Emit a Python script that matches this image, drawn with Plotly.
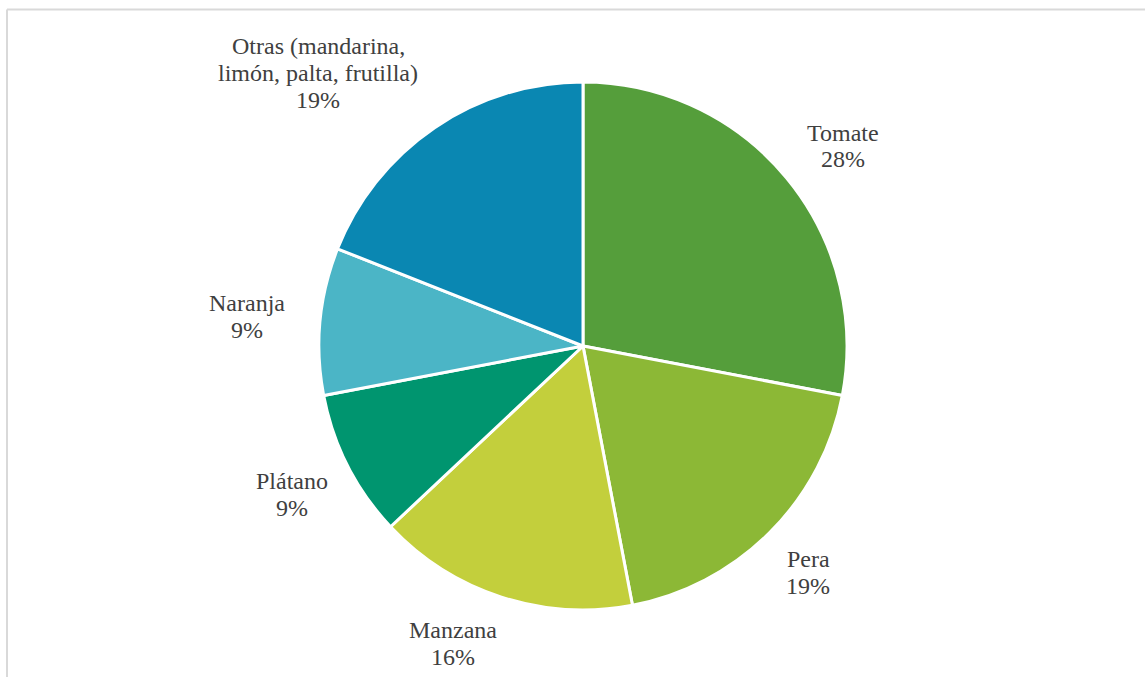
import plotly.graph_objects as go

# Share of each product (percent), clockwise from 12 o'clock
categories = ["Tomate", "Pera", "Manzana", "Plátano", "Naranja",
              "Otras (mandarina, limón, palta, frutilla)"]
shares = [28, 19, 16, 9, 9, 19]

# Label text split into lines
label_lines = [
    ["Tomate"],
    ["Pera"],
    ["Manzana"],
    ["Plátano"],
    ["Naranja"],
    ["Otras (mandarina,", "limón, palta, frutilla)"],
]

colors = ["#559E3B", "#8CB836", "#C3CF3C", "#00956F", "#4BB5C6", "#0A87B2"]

W, H = 1145, 677
# Label block centres in pixels (x from left, y from top)
label_pos = [(843, 146), (808, 572), (453, 643), (292, 494), (247, 316), (318, 73)]
LINE_H = 27
FONT = dict(family="Times New Roman", size=24, color="#404040")

# Pie geometry in pixels
CX, CY, R = 583, 346, 264

fig = go.Figure(go.Pie(
    labels=categories,
    values=shares,
    sort=False,
    direction="clockwise",
    rotation=0,
    textinfo="none",
    hoverinfo="label+percent",
    marker=dict(colors=colors, line=dict(color="white", width=3)),
    domain=dict(x=[(CX - R) / W, (CX + R) / W],
                y=[(H - CY - R) / H, (H - CY + R) / H]),
    showlegend=False,
))

annotations = []
for lines, share, (cx, cy) in zip(label_lines, shares, label_pos):
    all_lines = lines + [f"{share}%"]
    n = len(all_lines)
    for i, txt in enumerate(all_lines):
        py = cy + (i - (n - 1) / 2) * LINE_H
        annotations.append(dict(
            x=cx / W, y=1 - py / H, xref="paper", yref="paper",
            text=txt, showarrow=False, xanchor="center", yanchor="middle",
            font=FONT,
        ))

# Chart-area frame (top and left edges visible)
shapes = [
    dict(type="line", xref="paper", yref="paper",
         x0=7 / W, x1=1.0, y0=1 - 9.5 / H, y1=1 - 9.5 / H,
         line=dict(color="#D9D9D9", width=2)),
    dict(type="line", xref="paper", yref="paper",
         x0=7 / W, x1=7 / W, y0=0, y1=1 - 9.5 / H,
         line=dict(color="#D9D9D9", width=2)),
]

fig.update_layout(
    width=W, height=H,
    margin=dict(l=0, r=0, t=0, b=0),
    paper_bgcolor="white",
    plot_bgcolor="white",
    font=dict(family="Times New Roman"),
    annotations=annotations,
    shapes=shapes,
)

fig.write_html("out.html")
